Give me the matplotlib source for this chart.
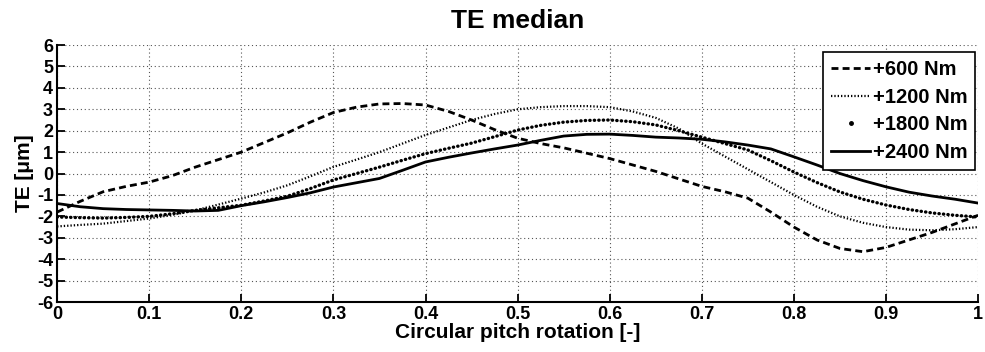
import matplotlib
matplotlib.use("Agg")
import matplotlib.pyplot as plt
from matplotlib.lines import Line2D

plt.rcParams['font.family'] = ['Liberation Sans', 'DejaVu Sans']
plt.rcParams['font.weight'] = 'bold'
plt.rcParams['axes.unicode_minus'] = False

x = [0.0, 0.025, 0.05, 0.075, 0.1, 0.125, 0.15, 0.175, 0.2, 0.225, 0.25,
     0.275, 0.3, 0.325, 0.35, 0.375, 0.4, 0.425, 0.45, 0.475, 0.5,
     0.525, 0.55, 0.575, 0.6, 0.625, 0.65, 0.675, 0.7, 0.725, 0.75,
     0.775, 0.8, 0.825, 0.85, 0.875, 0.9, 0.925, 0.95, 0.975, 1.0]

te_600 = [-1.8, -1.3, -0.85, -0.6, -0.4, -0.1, 0.3, 0.65, 1.0, 1.45, 1.9,
          2.4, 2.85, 3.1, 3.25, 3.27, 3.2, 2.9, 2.5, 2.05, 1.65,
          1.4, 1.2, 0.95, 0.7, 0.4, 0.1, -0.25, -0.6, -0.85, -1.15,
          -1.8, -2.5, -3.1, -3.5, -3.65, -3.45, -3.1, -2.75, -2.35, -1.95]
te_1200 = [-2.47, -2.4, -2.34, -2.22, -2.1, -1.93, -1.72, -1.45, -1.17, -0.88, -0.55,
           -0.13, 0.31, 0.65, 1.0, 1.4, 1.8, 2.15, 2.5, 2.78, 3.0,
           3.1, 3.15, 3.15, 3.1, 2.9, 2.6, 2.1, 1.4, 0.8, 0.2,
           -0.4, -1.0, -1.55, -2.0, -2.3, -2.5, -2.62, -2.65, -2.6, -2.5]
te_1800 = [-2.03, -2.06, -2.08, -2.05, -2.0, -1.88, -1.72, -1.6, -1.48, -1.28, -1.06,
           -0.7, -0.3, 0.0, 0.3, 0.62, 0.93, 1.18, 1.42, 1.72, 2.03,
           2.25, 2.4, 2.48, 2.5, 2.42, 2.27, 2.0, 1.7, 1.4, 1.1,
           0.6, 0.07, -0.42, -0.86, -1.2, -1.47, -1.68, -1.84, -1.95, -2.03]
te_2400 = [-1.4, -1.55, -1.64, -1.68, -1.7, -1.72, -1.75, -1.72, -1.5, -1.32, -1.12,
           -0.9, -0.63, -0.43, -0.23, 0.15, 0.54, 0.76, 0.96, 1.15, 1.33,
           1.55, 1.75, 1.83, 1.84, 1.78, 1.7, 1.66, 1.6, 1.48, 1.33,
           1.15, 0.78, 0.4, 0.0, -0.33, -0.62, -0.87, -1.05, -1.2, -1.38]

labels = ['+600 Nm', '+1200 Nm', '+1800 Nm', '+2400 Nm']
x_ticks = [0, 0.1, 0.2, 0.3, 0.4, 0.5, 0.6, 0.7, 0.8, 0.9, 1]
x_ticklabels = ['0', '0.1', '0.2', '0.3', '0.4', '0.5', '0.6', '0.7', '0.8', '0.9', '1']
y_ticks = list(range(-6, 7))

dash600 = (0, (2.5, 1.5))
dot1200 = (0, (0.6, 0.9))
dot1800 = (0, (0.1, 1.25))

fig = plt.figure(figsize=(9.85, 3.52), dpi=100)
ax = fig.add_axes([0.058, 0.142, 0.935, 0.730])

ax.plot(x, te_600, color='k', lw=2.0, linestyle=dash600)
ax.plot(x, te_1200, color='k', lw=1.6, linestyle=dot1200)
ax.plot(x, te_1800, color='k', lw=2.4, linestyle=dot1800, dash_capstyle='round')
ax.plot(x, te_2400, color='k', lw=2.0, linestyle='-')

ax.set_xlim(0, 1)
ax.set_ylim(-6, 6)
ax.set_xticks(x_ticks)
ax.set_xticklabels(x_ticklabels)
ax.set_yticks(y_ticks)
ax.tick_params(direction='in', length=6, width=1.3, labelsize=13, pad=3)
for lab in ax.get_xticklabels() + ax.get_yticklabels():
    lab.set_fontweight('bold')

ax.grid(True, linestyle=(0, (1, 2.5)), color='#555555', lw=0.8)
ax.spines['top'].set_visible(False)
ax.spines['right'].set_visible(False)
ax.spines['left'].set_linewidth(1.5)
ax.spines['bottom'].set_linewidth(1.5)

ax.set_title('TE median', fontsize=19, fontweight='bold', pad=12)
ax.set_xlabel('Circular pitch rotation [-]', fontsize=15, fontweight='bold', labelpad=0)
ax.set_ylabel('TE [\u03bcm]', fontsize=15, fontweight='bold', labelpad=2)

handles = [
    Line2D([], [], color='k', lw=2.0, linestyle=dash600),
    Line2D([], [], color='k', lw=1.6, linestyle=dot1200),
    Line2D([], [], color='k', marker='.', markersize=5, linestyle='none'),
    Line2D([], [], color='k', lw=2.0, linestyle='-'),
]
leg = ax.legend(handles, labels, loc='upper right', bbox_to_anchor=(0.997, 0.972),
                fontsize=14.5, frameon=True, fancybox=False, edgecolor='k',
                handlelength=1.9, handletextpad=0.15, labelspacing=0.42,
                borderpad=0.4, borderaxespad=0.0, framealpha=1)
leg.get_frame().set_linewidth(1.2)
for t in leg.get_texts():
    t.set_fontweight('bold')

fig.savefig('out.png', dpi=100)
